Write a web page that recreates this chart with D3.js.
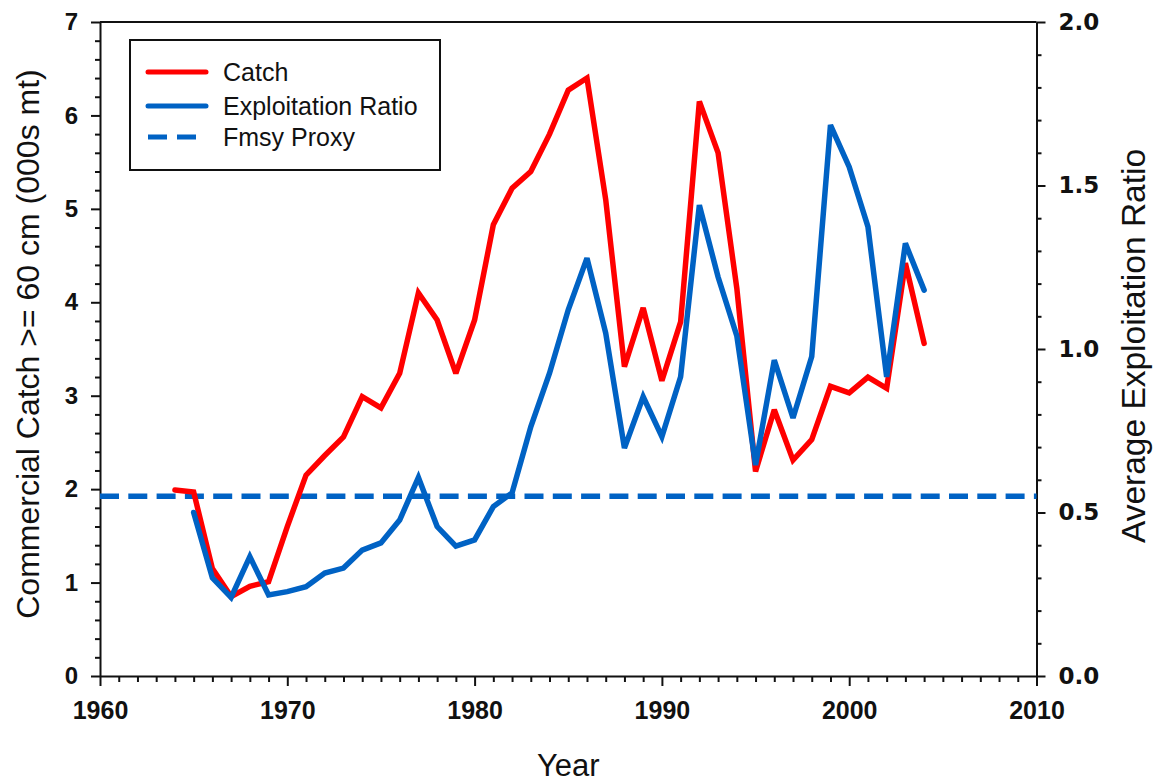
<!DOCTYPE html>
<html>
<head>
<meta charset="utf-8">
<script src="https://cdn.jsdelivr.net/npm/d3@7"></script>
<style>
  html, body { margin: 0; padding: 0; background: #fff; }
  svg { display: block; }
  .axis path, .axis line { stroke: #111; stroke-width: 2; }
</style>
</head>
<body>
<svg id="chart" width="1156" height="784"></svg>
<script>
// Commercial catch of fish >= 60 cm (000s mt), by year
const catchYears = [1964,1965,1966,1967,1968,1969,1970,1971,1972,1973,1974,1975,1976,1977,1978,1979,1980,
  1981,1982,1983,1984,1985,1986,1987,1988,1989,1990,1991,1992,1993,1994,1995,1996,1997,1998,1999,2000,
  2001,2002,2003,2004];
const catchValues = [1.99,1.97,1.15,0.85,0.96,1.01,1.60,2.15,2.36,2.56,2.99,2.87,3.24,4.10,3.81,3.24,3.81,
  4.83,5.22,5.40,5.80,6.27,6.40,5.10,3.31,3.94,3.16,3.79,6.15,5.60,4.15,2.19,2.85,2.31,2.53,3.10,3.03,
  3.20,3.08,4.42,3.56];

// Average exploitation ratio, by year
const ratioYears = [1965,1966,1967,1968,1969,1970,1971,1972,1973,1974,1975,1976,1977,1978,1979,1980,
  1981,1982,1983,1984,1985,1986,1987,1988,1989,1990,1991,1992,1993,1994,1995,1996,1997,1998,1999,2000,
  2001,2002,2003,2004];
const ratioValues = [0.50,0.30,0.24,0.365,0.248,0.258,0.273,0.315,0.33,0.385,0.407,0.477,0.607,0.457,0.397,0.416,
  0.518,0.56,0.762,0.926,1.12,1.278,1.049,0.697,0.854,0.732,0.915,1.44,1.22,1.04,0.645,0.966,0.789,0.977,1.685,1.557,
  1.374,0.915,1.323,1.18];

// Fmsy proxy reference level (exploitation ratio)
const fmsyProxy = 0.55;

// Axis ticks
const yearTicks = [1960,1970,1980,1990,2000,2010];
const catchTicks = [0,1,2,3,4,5,6,7];
const ratioTicks = [0.0,0.5,1.0,1.5,2.0];

const legendLabels = ["Catch", "Exploitation Ratio", "Fmsy Proxy"];

const RED = "#ff0000";
const BLUE = "#0062c4";

const svg = d3.select("#chart");
const plotLeft = 100, plotRight = 1036.5, plotTop = 22, plotBottom = 676;

const x = d3.scaleLinear().domain([1960, 2010]).range([plotLeft, plotRight]);
const yL = d3.scaleLinear().domain([0, 7]).range([plotBottom, plotTop]);
const yR = d3.scaleLinear().domain([0, 2]).range([plotBottom, plotTop]);

// minor ticks
const yearMinor = d3.range(1960, 2011, 1).filter(v => v % 10 !== 0);
const catchMinor = d3.range(0, 7.0001, 0.2).map(v => +v.toFixed(1)).filter(v => Math.abs(v - Math.round(v)) > 1e-6);
const ratioMinor = d3.range(0, 2.0001, 0.1).map(v => +v.toFixed(1)).filter(v => Math.abs(v * 2 - Math.round(v * 2)) > 1e-6);

function styleLabels(g, family, size) {
  g.selectAll("text")
    .attr("font-family", family)
    .attr("font-size", size)
    .attr("font-weight", "bold")
    .attr("fill", "#111");
}

// bottom axis
svg.append("g").attr("class", "axis").attr("transform", `translate(0,${plotBottom})`)
  .call(d3.axisBottom(x).tickValues(yearMinor).tickSize(6).tickSizeOuter(0).tickFormat(""))
  .call(g => g.select(".domain").remove());
const gx = svg.append("g").attr("class", "axis").attr("transform", `translate(0,${plotBottom})`)
  .call(d3.axisBottom(x).tickValues(yearTicks).tickSize(10).tickSizeOuter(0).tickPadding(15).tickFormat(d3.format("d")));
styleLabels(gx, "'Liberation Sans', Arial, sans-serif", 25);

// left axis
svg.append("g").attr("class", "axis").attr("transform", `translate(${plotLeft},0)`)
  .call(d3.axisLeft(yL).tickValues(catchMinor).tickSize(5).tickSizeOuter(0).tickFormat(""))
  .call(g => g.select(".domain").remove());
const gl = svg.append("g").attr("class", "axis").attr("transform", `translate(${plotLeft},0)`)
  .call(d3.axisLeft(yL).tickValues(catchTicks).tickSize(9).tickSizeOuter(0).tickPadding(13).tickFormat(d3.format("d")));
styleLabels(gl, "'Liberation Sans', Arial, sans-serif", 24);

// right axis
svg.append("g").attr("class", "axis").attr("transform", `translate(${plotRight},0)`)
  .call(d3.axisRight(yR).tickValues(ratioMinor).tickSize(5).tickSizeOuter(0).tickFormat(""))
  .call(g => g.select(".domain").remove());
const gr = svg.append("g").attr("class", "axis").attr("transform", `translate(${plotRight},0)`)
  .call(d3.axisRight(yR).tickValues(ratioTicks).tickSize(9).tickSizeOuter(0).tickPadding(13).tickFormat(d3.format(".1f")));
styleLabels(gr, "'DejaVu Sans', Verdana, sans-serif", 23);

// top frame line
svg.append("line")
  .attr("x1", plotLeft).attr("x2", plotRight).attr("y1", plotTop).attr("y2", plotTop)
  .attr("stroke", "#111").attr("stroke-width", 2);

// axis titles
svg.append("text")
  .attr("transform", `translate(39,344) rotate(-90)`)
  .attr("text-anchor", "middle")
  .attr("font-family", "'Liberation Sans', Arial, sans-serif")
  .attr("font-size", 32).attr("fill", "#111")
  .text("Commercial Catch >= 60 cm (000s mt)");

svg.append("text")
  .attr("transform", `translate(1145,346) rotate(-90)`)
  .attr("text-anchor", "middle")
  .attr("font-family", "'Liberation Sans', Arial, sans-serif")
  .attr("font-size", 33.5).attr("fill", "#111")
  .text("Average Exploitation Ratio");

svg.append("text")
  .attr("x", (plotLeft + plotRight) / 2).attr("y", 776)
  .attr("text-anchor", "middle")
  .attr("font-family", "'Liberation Sans', Arial, sans-serif")
  .attr("font-size", 31).attr("fill", "#111")
  .text("Year");

// Fmsy proxy reference line
svg.append("line")
  .attr("x1", plotLeft).attr("x2", plotRight)
  .attr("y1", yR(fmsyProxy)).attr("y2", yR(fmsyProxy))
  .attr("stroke", BLUE).attr("stroke-width", 5.5)
  .attr("stroke-dasharray", "19 9.3")
  .attr("stroke-linecap", "butt");

// catch series
const catchData = catchYears.map((yr, i) => [yr, catchValues[i]]);
svg.append("path")
  .datum(catchData)
  .attr("fill", "none").attr("stroke", RED).attr("stroke-width", 5.5)
  .attr("stroke-linejoin", "miter").attr("stroke-miterlimit", 3).attr("stroke-linecap", "round")
  .attr("d", d3.line().x(d => x(d[0])).y(d => yL(d[1])));

// exploitation ratio series
const ratioData = ratioYears.map((yr, i) => [yr, ratioValues[i]]);
svg.append("path")
  .datum(ratioData)
  .attr("fill", "none").attr("stroke", BLUE).attr("stroke-width", 5.5)
  .attr("stroke-linejoin", "miter").attr("stroke-miterlimit", 3).attr("stroke-linecap", "round")
  .attr("d", d3.line().x(d => x(d[0])).y(d => yR(d[1])));

// legend
const legend = svg.append("g");
legend.append("rect")
  .attr("x", 130).attr("y", 40).attr("width", 310).attr("height", 130)
  .attr("fill", "#fff").attr("stroke", "#111").attr("stroke-width", 2);
const rowsY = [72, 106, 137];
const styles = [
  { color: RED, dash: null },
  { color: BLUE, dash: null },
  { color: BLUE, dash: "19 10" }
];
legendLabels.forEach((lab, i) => {
  legend.append("line")
    .attr("x1", 148).attr("x2", 206).attr("y1", rowsY[i]).attr("y2", rowsY[i])
    .attr("stroke", styles[i].color).attr("stroke-width", 5)
    .attr("stroke-dasharray", styles[i].dash)
    .attr("stroke-linecap", styles[i].dash ? "butt" : "round");
  legend.append("text")
    .attr("x", 223).attr("y", rowsY[i] + 9)
    .attr("font-family", "'Liberation Sans', Arial, sans-serif")
    .attr("font-size", 25).attr("fill", "#111")
    .text(lab);
});
</script>
</body>
</html>
